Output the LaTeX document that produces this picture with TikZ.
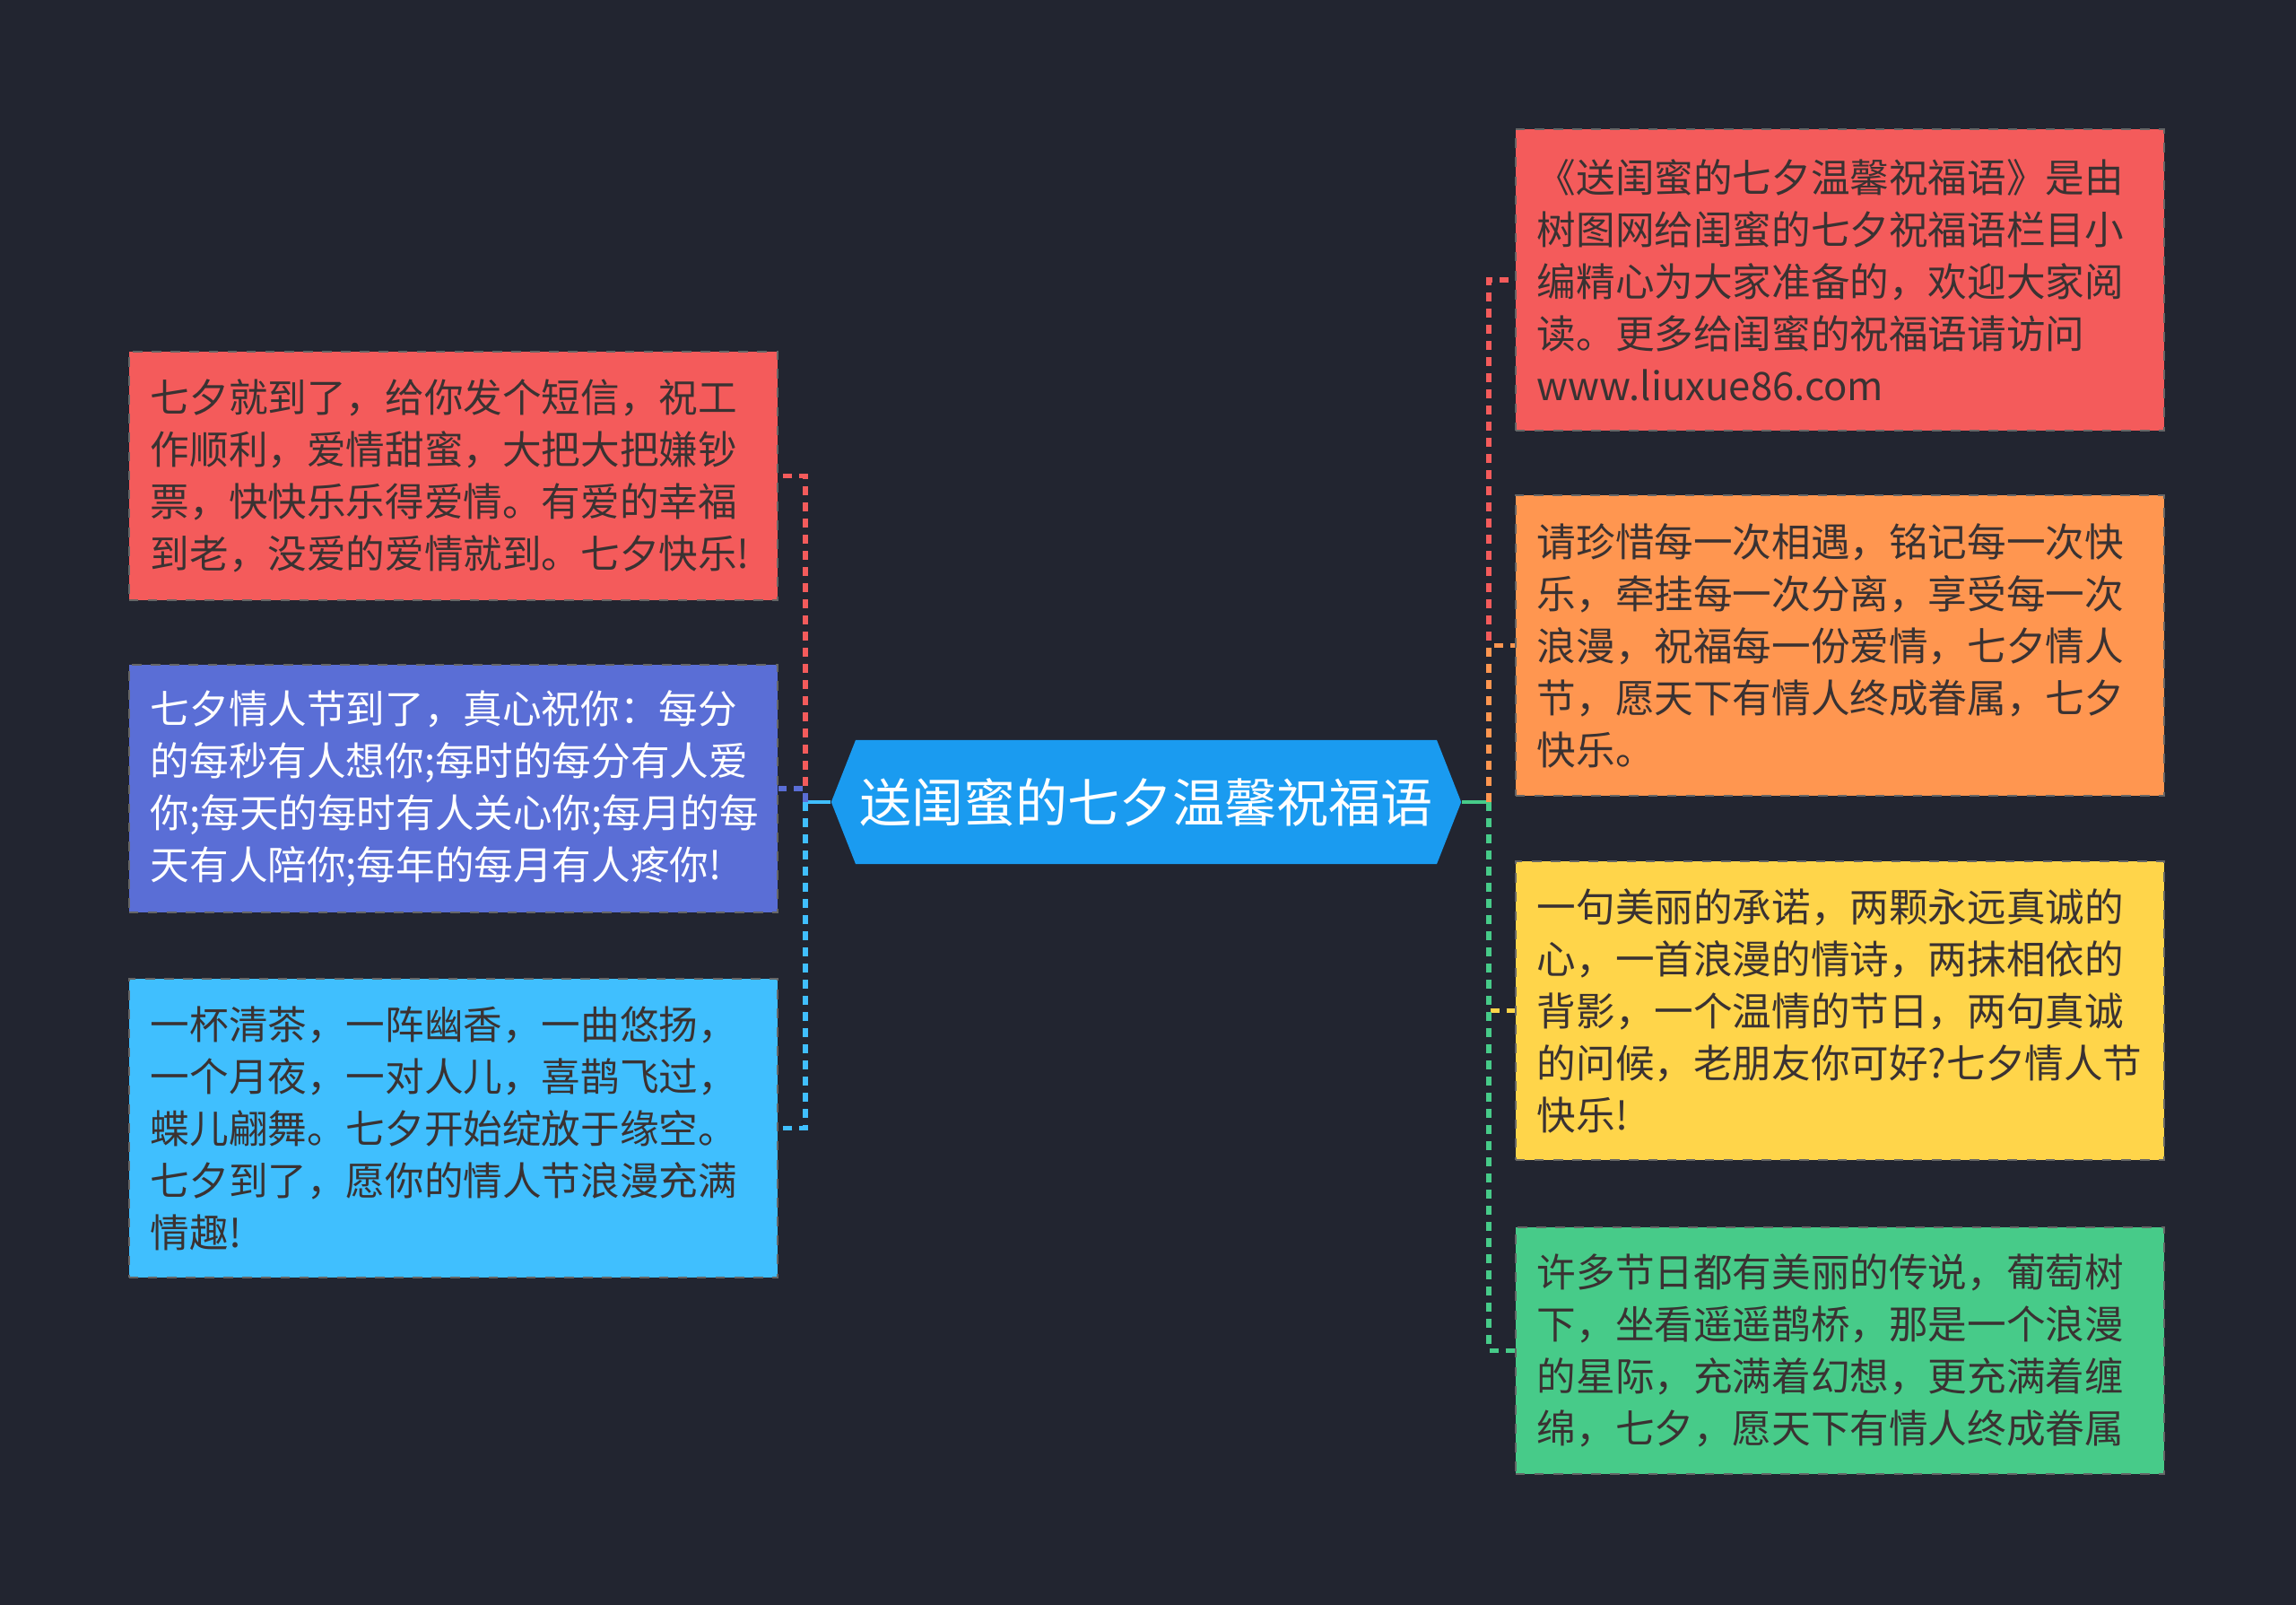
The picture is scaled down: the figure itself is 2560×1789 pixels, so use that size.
\documentclass[tikz,border=0pt]{standalone}
\usepackage{fontspec}
\setmainfont{Noto Sans CJK SC}
\usetikzlibrary{shapes.symbols}
\definecolor{bg}{HTML}{222530}
\definecolor{redbox}{HTML}{F45B5B}
\definecolor{purplebox}{HTML}{5A6ED6}
\definecolor{cyanbox}{HTML}{40BFFE}
\definecolor{orangebox}{HTML}{FF9650}
\definecolor{yellowbox}{HTML}{FFD54A}
\definecolor{greenbox}{HTML}{47CB89}
\definecolor{topic}{HTML}{1A9BF0}
\definecolor{ink}{HTML}{3A3232}

\begin{document}
\begin{tikzpicture}[x=0.01cm,y=-0.01cm]
  \tikzstyle{card}=[draw=black!60,dashed,line width=0.6pt,align=left,text width=6.75cm,inner xsep=0.24cm,inner ysep=0pt,text=ink,font=\fontsize{12.4pt}{16.5pt}\selectfont]
  \tikzstyle{link}=[dash pattern=on 0.1cm off 0.08cm,line width=1.5pt]
  \tikzstyle{stem}=[line width=1.4pt]
  \fill[bg] (0,0) rectangle (2560,1789);
  \useasboundingbox (0,0) rectangle (2560,1789);
  \node[signal,signal to=west and east,signal pointer angle=137,fill=topic,text=white,minimum width=7.02cm,minimum height=1.38cm,inner sep=0pt,font=\fontsize{16.5pt}{20pt}\selectfont] (t) at (1278,894) {送闺蜜的七夕温馨祝福语};
  \node[card,fill=redbox,minimum height=2.77cm] (l1) at (505.5,530.5) {七夕就到了，给你发个短信，祝工\\作顺利，爱情甜蜜，大把大把嫌钞\\票，快快乐乐得爱情。有爱的幸福\\到老，没爱的爱情就到。七夕快乐!};
  \node[card,fill=purplebox,text=white,minimum height=2.76cm] (l2) at (505.5,879) {七夕情人节到了，真心祝你：每分\\的每秒有人想你;每时的每分有人爱\\你;每天的每时有人关心你;每月的每\\天有人陪你;每年的每月有人疼你!};
  \node[card,fill=cyanbox,minimum height=3.33cm] (l3) at (505.5,1257.5) {一杯清茶，一阵幽香，一曲悠扬，\\一个月夜，一对人儿，喜鹊飞过，\\蝶儿翩舞。七夕开始绽放于缘空。\\七夕到了，愿你的情人节浪漫充满\\情趣!};
  \node[card,fill=redbox,minimum height=3.36cm] (r1) at (2051.5,312) {《送闺蜜的七夕温馨祝福语》是由\\树图网给闺蜜的七夕祝福语栏目小\\编精心为大家准备的，欢迎大家阅\\读。更多给闺蜜的祝福语请访问\\www.liuxue86.com};
  \node[card,fill=orangebox,minimum height=3.35cm] (r2) at (2051.5,719.5) {请珍惜每一次相遇，铭记每一次快\\乐，牵挂每一次分离，享受每一次\\浪漫，祝福每一份爱情，七夕情人\\节，愿天下有情人终成眷属，七夕\\快乐。};
  \node[card,fill=yellowbox,minimum height=3.33cm] (r3) at (2051.5,1126.5) {一句美丽的承诺，两颗永远真诚的\\心，一首浪漫的情诗，两抹相依的\\背影，一个温情的节日，两句真诚\\的问候，老朋友你可好?七夕情人节\\快乐!};
  \node[card,fill=greenbox,minimum height=2.75cm] (r4) at (2051.5,1505.5) {许多节日都有美丽的传说，葡萄树\\下，坐看遥遥鹊桥，那是一个浪漫\\的星际，充满着幻想，更充满着缠\\绵，七夕，愿天下有情人终成眷属};
  \coordinate (jl) at (898,894);
  \coordinate (jr) at (1660,894);
  \draw[stem,cyanbox] (t.west) -- (jl);
  \draw[stem,greenbox] (t.east) -- (jr);
  \draw[link,redbox] (jl) |- (l1.east);
  \draw[link,purplebox] (jl) |- (l2.east);
  \draw[link,cyanbox] (jl) |- (l3.east);
  \draw[link,redbox] (jr) |- (r1.west);
  \draw[link,orangebox] (jr) |- (r2.west);
  \draw[link,yellowbox] (jr) |- (r3.west);
  \draw[link,greenbox] (jr) |- (r4.west);
\end{tikzpicture}
\end{document}
